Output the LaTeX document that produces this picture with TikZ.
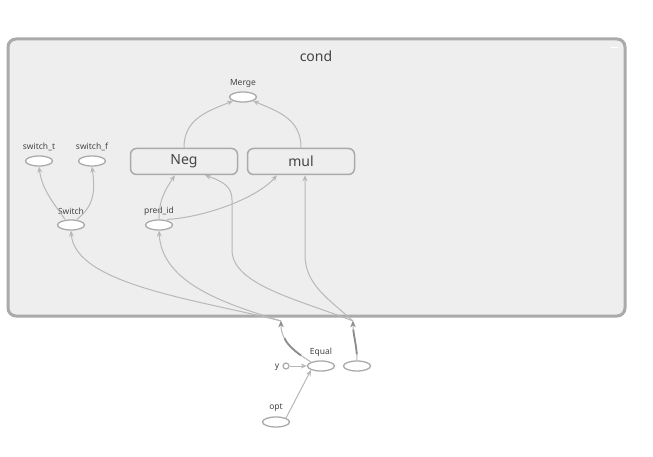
\documentclass[tikz,border=0pt]{standalone}
\usepackage{fontspec}
\setmainfont{Noto Sans}
\usetikzlibrary{arrows.meta}
\definecolor{bgc}{HTML}{EEEEEE}
\definecolor{brd}{HTML}{AAAAAA}
\definecolor{edg}{HTML}{B8B8B8}
\definecolor{txt}{HTML}{444444}
\tikzset{
  opnode/.style={ellipse, draw=brd, line width=1.3pt, fill=white, minimum width=27pt, minimum height=10pt, inner sep=0pt},
  grpnode/.style={rectangle, rounded corners=6pt, draw=brd, line width=1.5pt, fill=bgc, minimum width=107pt, minimum height=26pt, inner sep=0pt, font=\fontsize{14}{14}\selectfont, text=txt},
  lbl/.style={font=\fontsize{8.5}{9}\selectfont, text=txt, inner sep=0pt},
  edge/.style={draw=edg, line width=1pt, -{Stealth[length=6pt,width=5pt]}},
  elabelA/.style={draw=black!45, line width=1.8pt, dash pattern=on 0pt off 12pt on 24pt off 200pt},
  elabelB/.style={draw=black!45, line width=1.8pt, dash pattern=on 0pt off 6pt on 25pt off 200pt},
}
\usetikzlibrary{shapes.geometric}
\begin{document}
\begin{tikzpicture}[x=1pt,y=-1pt]
\useasboundingbox (0,0) rectangle (653,457);
\fill[white] (0,0) rectangle (653,457);
% cond group
\draw[draw=brd, line width=3pt, fill=bgc, rounded corners=8pt] (8,39) rectangle (625,316);
\draw[white, line width=1pt] (611,48) -- (618,48);
\node[font=\fontsize{14}{14}\selectfont, text=txt] (condlbl) at (316,56) {cond};

% nodes inside
\node[opnode] (merge) at (243,97) {};
\node[lbl] at (243,83) {Merge};
\node[grpnode] (neg) at (184,161.5) {Neg};
\node[grpnode] (mul) at (301,161.5) {mul};
\node[opnode] (swt) at (39,161) {};
\node[lbl] at (39,147) {switch\_t};
\node[opnode] (swf) at (92,161) {};
\node[lbl] at (92,147) {switch\_f};
\node[opnode] (switch) at (71,225) {};
\node[lbl] at (71,211) {Switch};
\node[opnode] (pred) at (159,225) {};
\node[lbl] at (159,211) {pred\_id};

% outside
\node[opnode] (equal) at (321,366) {};
\node[lbl] at (321,352) {Equal};
\node[circle, draw=brd, line width=1.2pt, fill=white, minimum size=6pt, inner sep=0pt] (y) at (286,366) {};
\node[lbl] at (277,367) {y};
\node[opnode] (other) at (357,366) {};
\node[opnode] (opt) at (276,422) {};
\node[lbl] at (276,408) {opt};

\coordinate (A) at (281,321);
\coordinate (B) at (353,321);

% edges inside
\draw[edge] (neg.north) .. controls (184,120) and (205,112) .. (merge.south west);
\draw[edge] (mul.north) .. controls (301,120) and (280,112) .. (merge.south east);
\draw[edge] ([xshift=-6pt]switch.north) .. controls (55,205) and (42,190) .. (swt.south);
\draw[edge] ([xshift=6pt]switch.north) .. controls (95,205) and (95,190) .. (swf.south);
\draw[edge] (pred.north) .. controls (159,200) and (165,190) .. ([xshift=-9pt]neg.south);
\draw[edge] ([xshift=8pt]pred.north) .. controls (200,218) and (255,200) .. ([xshift=-24pt]mul.south);
\draw[edge] (A) .. controls (200,300) and (75,285) .. (switch.south);
\draw[edge] (A) .. controls (230,305) and (162,285) .. (pred.south);
\draw[edge] (B) .. controls (300,300) and (232,285) .. (232,250) -- (232,200) .. controls (232,188) and (225,182) .. ([xshift=21pt]neg.south);
\draw[edge] (B) .. controls (330,300) and (305,285) .. (305,255) -- ([xshift=4pt]mul.south);

% edges outside, with their tiny shape labels
\draw[edge, postaction={draw, elabelA}] (equal.north west) .. controls (295,352) and (281,342) .. (A);
\draw[edge, postaction={draw, elabelB}] (other.north) .. controls (357,345) and (353,335) .. (B);
\draw[edge] (y) -- (equal.west);
\draw[edge] (opt.north east) -- (equal.south west);
\end{tikzpicture}
\end{document}
